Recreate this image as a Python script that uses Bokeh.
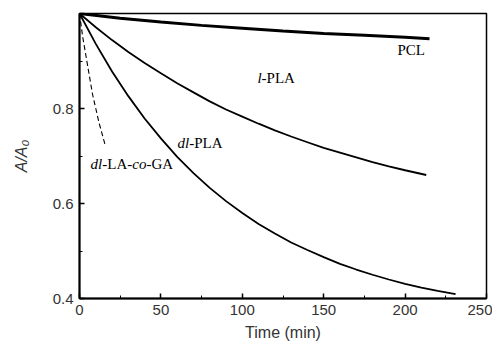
from bokeh.plotting import figure
from bokeh.models import SingleIntervalTicker, Label, Range1d
from bokeh.embed import file_html
from bokeh.resources import INLINE

# ---- data ----
t_pcl = [0, 25, 50, 75, 100, 125, 150, 175, 200, 215]
a_pcl = [1.0, 0.990, 0.982, 0.975, 0.969, 0.963, 0.958, 0.954, 0.950, 0.947]

t_lpla = [0, 10, 20, 30, 40, 50, 60, 70, 80, 90, 100, 110, 120, 130, 140, 150,
          160, 170, 180, 190, 200, 213]
a_lpla = [1.0, 0.971, 0.944, 0.919, 0.896, 0.874, 0.853, 0.834, 0.815, 0.798, 0.783,
          0.768, 0.754, 0.741, 0.729, 0.717, 0.707, 0.697, 0.687, 0.678, 0.670, 0.660]

t_dlpla = [0, 10, 20, 30, 40, 50, 60, 70, 80, 90, 100, 110, 120, 130, 140, 150,
           160, 170, 180, 190, 200, 210, 220, 231]
a_dlpla = [1.0, 0.936, 0.878, 0.826, 0.779, 0.737, 0.698, 0.664, 0.633, 0.605, 0.580,
           0.557, 0.537, 0.518, 0.502, 0.487, 0.473, 0.461, 0.450, 0.440, 0.431,
           0.423, 0.416, 0.409]

t_copo = [0, 2, 4, 6, 8, 10, 12, 14, 16]
a_copo = [1.0, 0.95, 0.91, 0.87, 0.83, 0.80, 0.77, 0.745, 0.72]

x_ticks_interval = 50
y_ticks_interval = 0.2

p = figure(width=492, height=343, output_backend="svg", toolbar_location=None,
           x_range=Range1d(0, 250), y_range=Range1d(0.4, 1.0),
           min_border_left=79, min_border_right=6, min_border_top=13, min_border_bottom=45)
p.xgrid.visible = False
p.ygrid.visible = False
p.outline_line_color = "black"
p.outline_line_width = 1.5
p.background_fill_color = "white"
p.border_fill_color = "white"

p.xaxis.ticker = SingleIntervalTicker(interval=x_ticks_interval, num_minor_ticks=2)
p.yaxis.ticker = SingleIntervalTicker(interval=y_ticks_interval, num_minor_ticks=2)
p.yaxis.major_label_overrides = {1.0: "", 1: ""}

for ax in (p.xaxis[0], p.yaxis[0]):
    ax.axis_line_width = 2
    ax.axis_line_color = "black"
    ax.major_tick_in = 5
    ax.major_tick_out = 0
    ax.minor_tick_in = 3
    ax.minor_tick_out = 0
    ax.major_tick_line_width = 1.5
    ax.major_label_text_font = "Liberation Sans"
    ax.major_label_text_font_size = "15px"
    ax.major_label_text_color = "#333333"
    ax.axis_label_text_font = "Liberation Sans"
    ax.axis_label_text_font_size = "16px"
    ax.axis_label_text_color = "#333333"
    ax.axis_label_text_font_style = "normal"
    ax.major_label_standoff = 6

p.xaxis.axis_label = "Time (min)"
p.xaxis.axis_label_standoff = 6
p.yaxis.axis_label = "A/A\u2080"
p.yaxis.axis_label_text_font_style = "italic"
p.yaxis.axis_label_standoff = 20

p.line(t_pcl, a_pcl, line_color="black", line_width=3)
p.line(t_lpla, a_lpla, line_color="black", line_width=1.8)
p.line(t_dlpla, a_dlpla, line_color="black", line_width=1.8)
p.line(t_copo, a_copo, line_color="black", line_width=1.1, line_dash="5 3")

# ---- labels (mixed italic / regular segments) ----
FS = 15
W = {"dl": 778, "l": 278, "-PLA": 2222, "-LA-": 1999, "co": 944, "-GA": 1777, "PCL": 1834}

def rich(x, y, parts):
    off = 0.0
    for txt, ital in parts:
        p.add_layout(Label(x=x, y=y, x_offset=off, text=txt, text_font="Liberation Serif",
                           text_font_size=f"{FS}px", text_color="black",
                           text_font_style="italic" if ital else "normal",
                           text_baseline="middle", text_align="left"))
        off += W[txt] * FS / 1000.0

rich(195.3, 0.924, [("PCL", False)])
rich(109.3, 0.864, [("l", True), ("-PLA", False)])
rich(60.2, 0.728, [("dl", True), ("-PLA", False)])
rich(6.8, 0.683, [("dl", True), ("-LA-", False), ("co", True), ("-GA", False)])

open("out.html", "w").write(file_html(p, INLINE))
